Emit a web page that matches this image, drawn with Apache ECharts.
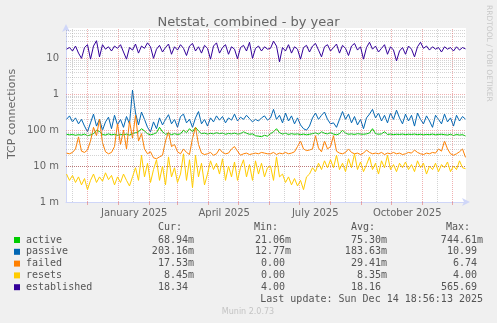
<!DOCTYPE html>
<html><head><meta charset="utf-8">
<script src="https://cdn.jsdelivr.net/npm/echarts@6/dist/echarts.min.js"></script>
<style>html,body{margin:0;padding:0;background:#f0f0f0}#c{width:497px;height:323px}</style>
</head><body><div id="c"></div>
<script>
const chartTitle = 'Netstat, combined - by year';
const yAxisTitle = 'TCP connections';
const seriesNames = ['active', 'passive', 'failed', 'resets', 'established'];
const seriesColors = ['#00CC00', '#0066B3', '#FF8000', '#FFCC00', '#330099'];

// one value every 3 days, from 9 Nov 2024 to 14 Dec 2025
const active = [
 0.077,0.074,0.076,0.072,0.075,0.073,0.078,0.07,0.074,0.08,
 0.1,0.092,0.076,0.073,0.079,0.074,0.077,0.072,0.076,0.074,
 0.078,0.073,0.08,0.085,0.09,0.11,0.095,0.08,0.074,0.078,
 0.085,0.12,0.09,0.077,0.082,0.075,0.08,0.076,0.079,0.1,
 0.085,0.11,0.09,0.12,0.095,0.08,0.083,0.078,0.082,0.079,
 0.085,0.08,0.083,0.077,0.081,0.079,0.083,0.078,0.08,0.09,
 0.082,0.077,0.079,0.07,0.068,0.066,0.072,0.068,
 0.08,0.09,0.11,0.085,0.078,0.082,0.076,0.08,0.077,0.079,
 0.075,0.078,0.074,0.077,0.08,0.084,0.078,0.09,0.082,0.079,
 0.085,0.078,0.074,0.08,0.1,0.082,0.077,0.079,0.076,0.08,
 0.078,0.077,0.079,0.083,0.11,0.08,0.077,0.079,0.09,0.076,
 0.078,0.075,0.077,0.076,0.078,0.075,0.077,0.076,0.078,0.075,
 0.077,0.074,0.076,0.075,0.078,0.074,0.076,0.077,0.075,0.073,
 0.077,0.071,0.076,0.073,0.075,0.069
];
const passive = [
 0.2,0.25,0.17,0.22,0.15,0.2,0.13,0.09,0.16,0.28,
 0.13,0.2,0.1,0.17,0.23,0.11,0.26,0.14,0.2,0.12,
 0.24,0.15,1.3,0.3,0.14,0.32,0.2,0.12,0.09,0.17,
 0.11,0.22,0.14,0.2,0.27,0.15,0.2,0.12,0.24,0.28,
 0.16,0.2,0.12,0.22,0.33,0.15,0.2,0.13,0.22,0.17,
 0.25,0.19,0.24,0.16,0.22,0.19,0.28,0.18,0.23,0.2,
 0.26,0.21,0.17,0.2,0.18,0.22,0.25,0.19,
 0.22,0.38,0.2,0.26,0.16,0.3,0.18,0.25,0.15,0.22,
 0.14,0.11,0.1,0.13,0.22,0.3,0.2,0.26,0.32,0.2,
 0.15,0.16,0.12,0.2,0.33,0.2,0.28,0.16,0.24,0.14,
 0.2,0.11,0.22,0.28,0.38,0.22,0.3,0.18,0.26,0.16,
 0.3,0.2,0.36,0.22,0.15,0.28,0.18,0.26,0.13,0.3,
 0.2,0.15,0.25,0.18,0.12,0.26,0.2,0.15,0.28,0.17,
 0.22,0.13,0.26,0.18,0.24,0.203
];
const failed = [
 0.023,0.022,0.024,0.03,0.065,0.026,0.024,0.028,0.05,0.12,
 0.07,0.2,0.045,0.025,0.022,0.024,0.035,0.15,0.04,0.1,
 0.03,0.18,0.06,0.26,0.05,0.08,0.03,0.022,0.025,0.017,
 0.016,0.018,0.02,0.05,0.09,0.035,0.04,0.025,0.022,0.03,
 0.024,0.021,0.06,0.12,0.04,0.023,0.021,0.022,0.024,0.02,
 0.022,0.03,0.024,0.022,0.023,0.03,0.035,0.026,0.02,0.022,
 0.023,0.021,0.022,0.023,0.022,0.024,0.023,0.022,
 0.022,0.024,0.021,0.023,0.022,0.024,0.022,0.023,0.025,0.035,
 0.05,0.03,0.027,0.028,0.03,0.07,0.032,0.025,0.05,0.03,
 0.035,0.07,0.026,0.023,0.022,0.024,0.03,0.024,0.022,0.023,
 0.021,0.023,0.028,0.024,0.022,0.023,0.022,0.024,0.021,0.023,
 0.022,0.024,0.022,0.023,0.021,0.022,0.024,0.023,0.028,0.024,
 0.022,0.021,0.023,0.022,0.024,0.023,0.03,0.026,0.05,0.03,
 0.022,0.02,0.022,0.025,0.03,0.0175
];
const resets = [
 0.006,0.004,0.0055,0.0035,0.005,0.003,0.0045,0.0022,0.004,0.006,
 0.0035,0.005,0.0038,0.0065,0.0042,0.0055,0.003,0.005,0.0035,0.006,
 0.004,0.0028,0.005,0.009,0.004,0.02,0.005,0.012,0.0035,0.008,
 0.015,0.004,0.01,0.003,0.018,0.005,0.009,0.0035,0.006,0.022,
 0.004,0.015,0.0025,0.02,0.005,0.012,0.003,0.006,0.014,0.008,
 0.012,0.006,0.016,0.004,0.01,0.005,0.013,0.004,0.009,0.015,
 0.005,0.011,0.004,0.014,0.006,0.012,0.005,0.009,
 0.01,0.004,0.018,0.005,0.006,0.0035,0.005,0.003,0.0045,0.0028,
 0.004,0.0022,0.005,0.006,0.009,0.007,0.012,0.008,0.014,0.009,
 0.015,0.009,0.02,0.008,0.012,0.007,0.016,0.009,0.022,0.008,
 0.013,0.007,0.011,0.018,0.008,0.012,0.006,0.014,0.009,0.02,
 0.008,0.011,0.007,0.012,0.009,0.013,0.008,0.011,0.007,0.014,
 0.009,0.012,0.006,0.01,0.008,0.012,0.007,0.011,0.009,0.013,
 0.007,0.01,0.008,0.014,0.009,0.00845
];
const established = [
 18,20,16,22,14,10,20,24,9.5,22,
 31,11,24,18,21,16,22,19,24,15,
 9.5,20,17,25,14,22,19,27,21,10,
 18,23,15,20,25,13,21,17,24,19,
 12,22,26,16,21,14,23,19,9.5,22,
 27,14,20,24,13,21,18,9.8,20,23,
 16,28,10,19,22,16,21,18,
 19,30,22,8,20,16,24,14,21,18,
 9.5,20,23,15,22,26,17,11,21,24,
 16,20,25,14,23,19,12,22,26,17,
 21,9.5,20,28,18,22,15,19,24,13,
 21,17,8.5,16,20,13,22,18,11,21,
 28,19,22,17,21,18,20,15,21,18,
 20,16,21,17,20,18.34
];

const curVals = ['68.94m', '203.16m', '17.53m', '8.45m', '18.34'];
const minVals = ['21.06m', '12.77m', '0.00', '0.00', '4.00'];
const avgVals = ['75.30m', '183.63m', '29.41m', '8.35m', '18.16'];
const maxVals = ['744.61m', '10.99', '6.74', '4.00', '565.69'];
const colHeaders = ['Cur:', 'Min:', 'Avg:', 'Max:'];
const lastUpdate = 'Last update: Sun Dec 14 18:56:13 2025';

const xTickLabels = ['January 2025', 'April 2025', 'July 2025', 'October 2025'];
const xTickMonths = [[2025, 0], [2025, 3], [2025, 6], [2025, 9]];
const yTickValues = [0.001, 0.01, 0.1, 1, 10];
const yTickLabels = ['1 m', '10 m', '100 m', '1', '10'];

const DAY = 86400000;
const endTime = Date.UTC(2025, 11, 14, 18, 56, 13);
const startTime = endTime - 400 * DAY;
const stepDays = 3;
const allData = [active, passive, failed, resets, established];
const toPairs = arr => arr.map((v, i) => [startTime + (i * stepDays + 0.5) * DAY, v]);

const FONT = 'DejaVu Sans';
const MONO = 'DejaVu Sans Mono';
const minorColor = 'rgba(150,150,150,0.42)';
const majorColor = 'rgba(222,79,79,0.45)';
const axisColor = '#CFD6F8';

const gridLines = [];
yTickValues.forEach(d => {
  for (let k = 2; k <= 9; k++) {
    const v = d * k;
    if (v < 70) gridLines.push({ yAxis: v, lineStyle: { color: minorColor, type: [1, 1], width: 1 } });
  }
});
const monthStarts = [];
for (let m = 0; m < 13; m++) monthStarts.push(Date.UTC(2024, 11 + m, 1));
for (let m = -1; m < 13; m++) {
  const t = Date.UTC(2024, 11 + m, 16);
  if (t > startTime && t < endTime) gridLines.push({ xAxis: t, lineStyle: { color: minorColor, type: [1, 1], width: 1 } });
}
yTickValues.forEach(d => gridLines.push({ yAxis: d, lineStyle: { color: majorColor, type: [1, 1], width: 1 } }));
monthStarts.forEach(t => gridLines.push({ xAxis: t, lineStyle: { color: majorColor, type: [1, 1], width: 1 } }));

const labelTimes = xTickMonths.map(([y, m]) => Date.UTC(y, m, 17));

const series = [{
  name: 'grid', type: 'line', data: [], z: 1, silent: true,
  markLine: { silent: true, symbol: ['none', 'none'], label: { show: false }, animation: false, data: gridLines }
}];
seriesNames.forEach((n, i) => series.push({
  name: n, type: 'line', data: toPairs(allData[i]), showSymbol: false, z: 2 + i,
  lineStyle: { width: 1, color: seriesColors[i] }, itemStyle: { color: seriesColors[i] }, animation: false
}));

// legend table as graphic text
const graphic = [];
const colEnds = [194, 291, 387, 483];
const headerEnds = [182, 278, 375, 470];
const txt = (x, y, s, font, fill, align, extra) => Object.assign({ type: 'text', x: x, y: y,
  style: { text: s, font: font, fill: fill, align: align, textAlign: align, verticalAlign: 'middle', textVerticalAlign: 'middle' } }, extra || {});
const monoFont = '10px "' + MONO + '"';
colHeaders.forEach((h, j) => graphic.push(txt(headerEnds[j], 227.5, h, monoFont, '#555', 'right')));
const cols = [curVals, minVals, avgVals, maxVals];
seriesNames.forEach((n, i) => {
  const y = 240 + i * 11.8;
  graphic.push({ type: 'rect', shape: { x: 14, y: y - 3, width: 6, height: 6 }, style: { fill: seriesColors[i] } });
  graphic.push(txt(26, y, n, monoFont, '#555', 'left'));
  cols.forEach((c, j) => {
    const s = c[i];
    const x = s.endsWith('m') ? colEnds[j] : colEnds[j] - 6;
    graphic.push(txt(x, y, s, monoFont, '#555', 'right'));
  });
});
graphic.push(txt(483, 299, lastUpdate, monoFont, '#555', 'right'));
graphic.push(txt(248, 312, 'Munin 2.0.73', '8px "' + FONT + '"', '#c4c4c4', 'center'));
graphic.push(txt(489, 5, 'RRDTOOL / TOBI OETIKER', '7.5px "' + FONT + '"', '#c8c8c8', 'left', { rotation: -Math.PI / 2 }));
graphic.push(txt(12, 114, yAxisTitle, '11px "' + FONT + '"', '#666', 'center', { rotation: Math.PI / 2 }));

const chart = echarts.init(document.getElementById('c'), null, { renderer: 'canvas' });
chart.setOption({
  backgroundColor: '#F0F0F0',
  animation: false,
  title: { text: chartTitle, left: 'center', top: 11, textStyle: { fontFamily: FONT, fontSize: 13, fontWeight: 'normal', color: '#666' } },
  grid: { left: 66, right: 31, top: 28, bottom: 121, show: true, backgroundColor: '#FFFFFF', borderWidth: 0 },
  xAxis: {
    type: 'value', min: startTime, max: endTime,
    splitLine: { show: false },
    axisLine: { show: true, onZero: false, lineStyle: { color: axisColor, width: 1 }, symbol: ['none', 'arrow'], symbolSize: [6, 8], symbolOffset: [0, 4] },
    axisTick: { show: true, customValues: monthStarts, length: 3, lineStyle: { color: majorColor } },
    axisLabel: { customValues: labelTimes, margin: 6, fontFamily: FONT, fontSize: 10, color: '#666',
      formatter: v => { const k = labelTimes.indexOf(v); return k >= 0 ? xTickLabels[k] : ''; } }
  },
  yAxis: {
    type: 'log', logBase: 10, min: 0.001, max: 70,
    splitLine: { show: false },
    axisLine: { show: true, onZero: false, lineStyle: { color: axisColor, width: 1 }, symbol: ['none', 'arrow'], symbolSize: [6, 8], symbolOffset: [0, 4] },
    axisTick: { show: false },
    axisLabel: { margin: 7, fontFamily: FONT, fontSize: 10, color: '#666', showMaxLabel: false,
      formatter: v => { const k = yTickValues.findIndex(t => Math.abs(Math.log10(t) - Math.log10(v)) < 1e-6); return k >= 0 ? yTickLabels[k] : ''; } }
  },
  graphic: graphic,
  series: series
});
</script>
</body></html>
